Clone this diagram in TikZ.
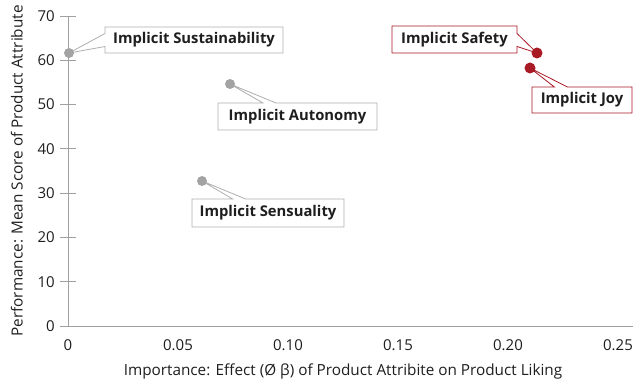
\documentclass[tikz,border=0pt]{standalone}
\usepackage{fontspec}
\setmainfont{Open Sans}
\usetikzlibrary{shapes.callouts}
\definecolor{axisgray}{RGB}{160,160,160}
\definecolor{dotgray}{RGB}{163,163,163}
\definecolor{boxgray}{RGB}{175,175,175}
\definecolor{darkred}{RGB}{168,26,36}
\definecolor{txt}{RGB}{30,30,30}
\begin{document}
\begin{tikzpicture}[x=1pt,y=-1pt,
  axis/.style={draw=axisgray, line width=0.9pt},
  ticklbl/.style={font=\fontsize{15}{17}\selectfont, text=txt, inner sep=0pt},
  axtitle/.style={font=\fontsize{15.3}{17}\selectfont, text=txt, inner sep=0pt},
  lbl/.style={rectangle callout, draw=boxgray, fill=white, line width=0.8pt,
    font=\bfseries\fontsize{14.8}{17}\selectfont, text=txt, inner sep=0pt,
    callout pointer width=13pt},
  redlbl/.style={lbl, draw=darkred},
  dot/.style={circle, fill=dotgray, inner sep=0pt, minimum size=10pt},
  reddot/.style={dot, fill=darkred, minimum size=11pt}]
\useasboundingbox (0,0) rectangle (633,379);
% axes
\coordinate (o) at (68,326);
\coordinate (ytop) at (68,16);
\coordinate (xend) at (633,326);
\draw[axis] (ytop) -- (o) -- (xend);
% y ticks
\foreach \v/\yy in {0/326,10/281.7,20/237.4,30/193.1,40/148.9,50/104.6,60/60.3,70/16}{
  \coordinate (tl\v) at (60,\yy);
  \coordinate (tr\v) at (76,\yy);
  \draw[axis] (tl\v) -- (tr\v);
  \node[ticklbl, anchor=east] (yl\v) at (55,\yy) {\v};
}
% x tick labels
\foreach \t/\xx in {0/68,0.05/178,0.10/288,0.15/398,0.20/508,0.25/618}{
  \node[ticklbl] (xl\t) at (\xx,345) {\t};
}
\node[axtitle] (xtitle) at (343,371) {Importance: Effect (Ø β) of Product Attribite on Product Liking};
\node[axtitle, rotate=90] (ytitle) at (17,171) {Performance: Mean Score of Product Attribute};
% data points
\coordinate (pSus) at (69,53);
\coordinate (pAut) at (230,84);
\coordinate (pSen) at (202,181);
\coordinate (pSaf) at (537,53);
\coordinate (pJoy) at (530,68);
% callouts
\node[lbl, minimum width=178pt, minimum height=26pt, callout absolute pointer={(pSus)}] (lSus) at (194,40) {Implicit Sustainability};
\node[lbl, minimum width=159pt, minimum height=27pt, callout absolute pointer={(pAut)}] (lAut) at (297.5,116.5) {Implicit Autonomy};
\node[lbl, minimum width=152pt, minimum height=28pt, callout absolute pointer={(pSen)}] (lSen) at (268,213) {Implicit Sensuality};
\node[redlbl, minimum width=125pt, minimum height=27pt, callout absolute pointer={(pSaf)}] (lSaf) at (454.5,39.5) {Implicit Safety};
\node[redlbl, minimum width=100pt, minimum height=26pt, callout absolute pointer={(pJoy)}] (lJoy) at (582,100) {Implicit Joy};
% dots
\node[dot] (dSus) at (pSus) {};
\node[dot] (dAut) at (pAut) {};
\node[dot] (dSen) at (pSen) {};
\node[reddot] (dSaf) at (pSaf) {};
\node[reddot] (dJoy) at (pJoy) {};
\end{tikzpicture}
\end{document}
